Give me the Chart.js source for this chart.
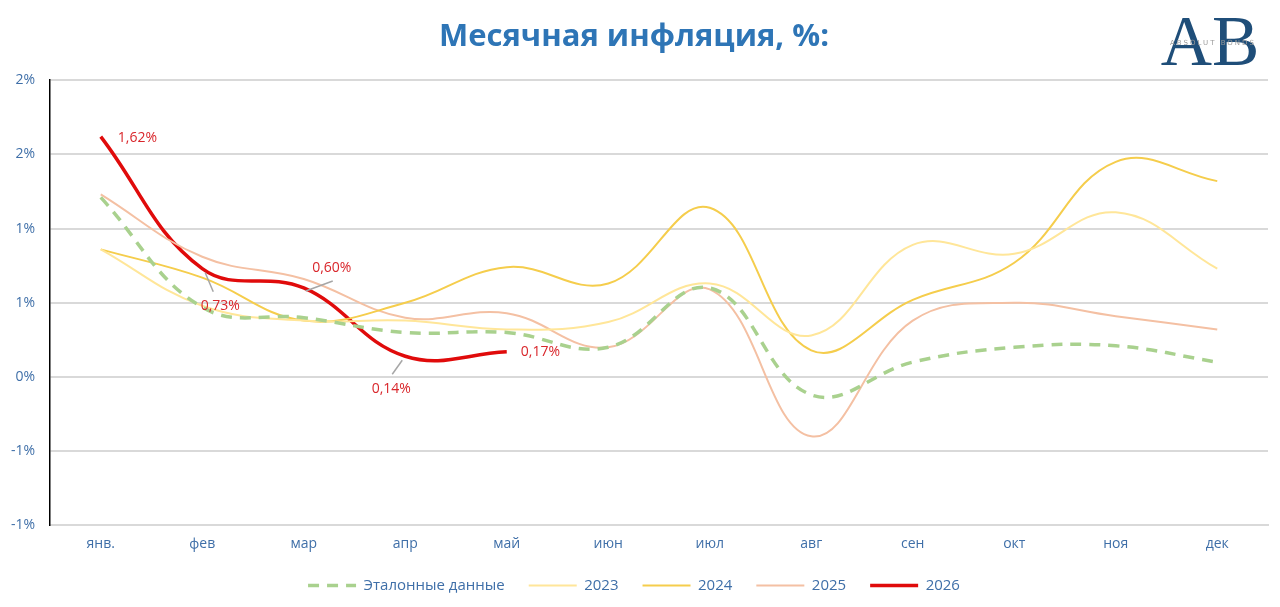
<!DOCTYPE html>
<html>
<head>
<meta charset="utf-8">
<script src="https://cdn.jsdelivr.net/npm/chart.js@4.4.1/dist/chart.umd.min.js"></script>
<style>
  html, body { margin: 0; padding: 0; background: #fff; }
  #wrap { width: 1280px; height: 607px; position: relative; }
</style>
</head>
<body>
<div id="wrap"><canvas id="infl-chart"></canvas></div>
<script>
// monthly inflation, %
var months = ['янв.', 'фев', 'мар', 'апр', 'май', 'июн', 'июл', 'авг', 'сен', 'окт', 'ноя', 'дек'];
var refData = [1.21, 0.47, 0.40, 0.30, 0.30, 0.20, 0.60, -0.12, 0.10, 0.20, 0.21, 0.10];
var data2023 = [0.86, 0.48, 0.38, 0.38, 0.32, 0.37, 0.63, 0.28, 0.89, 0.83, 1.11, 0.73];
var data2024 = [0.86, 0.67, 0.38, 0.50, 0.74, 0.63, 1.14, 0.18, 0.52, 0.77, 1.45, 1.32];
var data2025 = [1.23, 0.81, 0.66, 0.40, 0.43, 0.20, 0.59, -0.40, 0.38, 0.50, 0.41, 0.32];
var data2026 = [1.62, 0.73, 0.60, 0.14, 0.17];
var labels2026 = ['1,62%', '0,73%', '0,60%', '0,14%', '0,17%'];
var yTickValues = [-1, -0.5, 0, 0.5, 1, 1.5, 2];
var yTickLabels = ['-1%', '-1%', '0%', '1%', '1%', '2%', '2%'];

var FONT = '"Liberation Sans Narrow", "Open Sans", sans-serif';
var TEXT_BLUE = '#3F6FA8';

// red value labels for 2026 with small leader lines, plus the logo
var pointLabels = {
  id: 'pointLabels',
  afterDatasetsDraw: function(chart) {
    var ctx = chart.ctx;
    var meta = chart.getDatasetMeta(4);
    // [dx, dy, align, leader]
    var place = [
      [17, 1, 'left', null],
      [18, 37, 'center', [3, 4, 11, 23]],
      [28, -20, 'center', [2, 3, 29, -7]],
      [-14, 33, 'center', [-3, 4, -13, 18]],
      [14, 0, 'left', null]
    ];
    ctx.save();
    for (var i = 0; i < meta.data.length; i++) {
      var p = meta.data[i];
      var o = place[i];
      if (o[3]) {
        ctx.strokeStyle = '#A6A6A6';
        ctx.lineWidth = 1.5;
        ctx.beginPath();
        ctx.moveTo(p.x + o[3][0], p.y + o[3][1]);
        ctx.lineTo(p.x + o[3][2], p.y + o[3][3]);
        ctx.stroke();
      }
      ctx.fillStyle = '#D9262B';
      ctx.font = '14px ' + FONT;
      ctx.textAlign = o[2];
      ctx.textBaseline = 'middle';
      ctx.fillText(labels2026[i], p.x + o[0], p.y + o[1]);
    }
    ctx.restore();
  },
  afterDraw: function(chart) {
    var ctx = chart.ctx;
    ctx.save();
    ctx.fillStyle = '#1F4E79';
    ctx.font = '71px "Liberation Serif", "DejaVu Serif", serif';
    ctx.textAlign = 'center';
    ctx.textBaseline = 'alphabetic';
    ctx.fillText('AB', 1210, 65);
    ctx.fillStyle = '#9A9A9A';
    ctx.font = '7px "DejaVu Sans", sans-serif';
    ctx.letterSpacing = '2px';
    ctx.fillText('ABSOLUT BONDS', 1213, 45);
    ctx.restore();
  }
};

var ctx = document.getElementById('infl-chart').getContext('2d');
var chart = new Chart(ctx, {
  type: 'line',
  data: {
    labels: months,
    datasets: [
      {
        label: 'Эталонные данные',
        data: refData,
        borderColor: '#A9D18E',
        borderWidth: 3.5,
        borderDash: [11, 8]
      },
      {
        label: '2023',
        data: data2023,
        borderColor: '#FFE699',
        borderWidth: 2
      },
      {
        label: '2024',
        data: data2024,
        borderColor: '#F5CD4C',
        borderWidth: 2
      },
      {
        label: '2025',
        data: data2025,
        borderColor: '#F4C0A3',
        borderWidth: 2
      },
      {
        label: '2026',
        data: data2026,
        borderColor: '#E00B0B',
        borderWidth: 3.5
      }
    ]
  },
  options: {
    responsive: true,
    maintainAspectRatio: false,
    animation: false,
    layout: { padding: { left: 0, right: 12, top: 0, bottom: 4 } },
    elements: {
      line: { tension: 0.4, fill: false },
      point: { radius: 0, hoverRadius: 0 }
    },
    scales: {
      x: {
        offset: true,
        grid: { display: false },
        border: { display: true, color: '#D9D9D9', width: 2 },
        ticks: { color: TEXT_BLUE, font: { size: 14, family: FONT, lineHeight: 0.9 }, padding: 4, maxRotation: 0 }
      },
      y: {
        min: -1,
        max: 2,
        afterFit: function(scale) { scale.width = 50; },
        afterBuildTicks: function(scale) {
          scale.ticks = yTickValues.map(function(v) { return { value: v }; });
        },
        grid: { color: '#D9D9D9', lineWidth: 2, drawTicks: false },
        border: { display: true, color: '#000', width: 1.5 },
        ticks: {
          color: TEXT_BLUE,
          font: { size: 14, family: FONT },
          padding: 15,
          callback: function(value) {
            var k = yTickValues.indexOf(value);
            return k >= 0 ? yTickLabels[k] : '';
          }
        }
      }
    },
    plugins: {
      title: {
        display: true,
        text: 'Месячная инфляция, %:',
        color: '#2E75B6',
        font: { size: 31, weight: 'bold', family: '"Open Sans", sans-serif' },
        padding: { top: 19, bottom: 24 }
      },
      legend: {
        position: 'bottom',
        labels: {
          usePointStyle: true,
          pointStyle: 'line',
          pointStyleWidth: 48,
          color: TEXT_BLUE,
          font: { size: 15, family: FONT },
          padding: 24,
          generateLabels: function(chart) {
            var items = Chart.defaults.plugins.legend.labels.generateLabels(chart);
            items.forEach(function(item) {
              item.lineDash = chart.data.datasets[item.datasetIndex].borderDash || [];
            });
            return items;
          }
        }
      },
      tooltip: { enabled: false }
    }
  },
  plugins: [pointLabels]
});
</script>
</body>
</html>
